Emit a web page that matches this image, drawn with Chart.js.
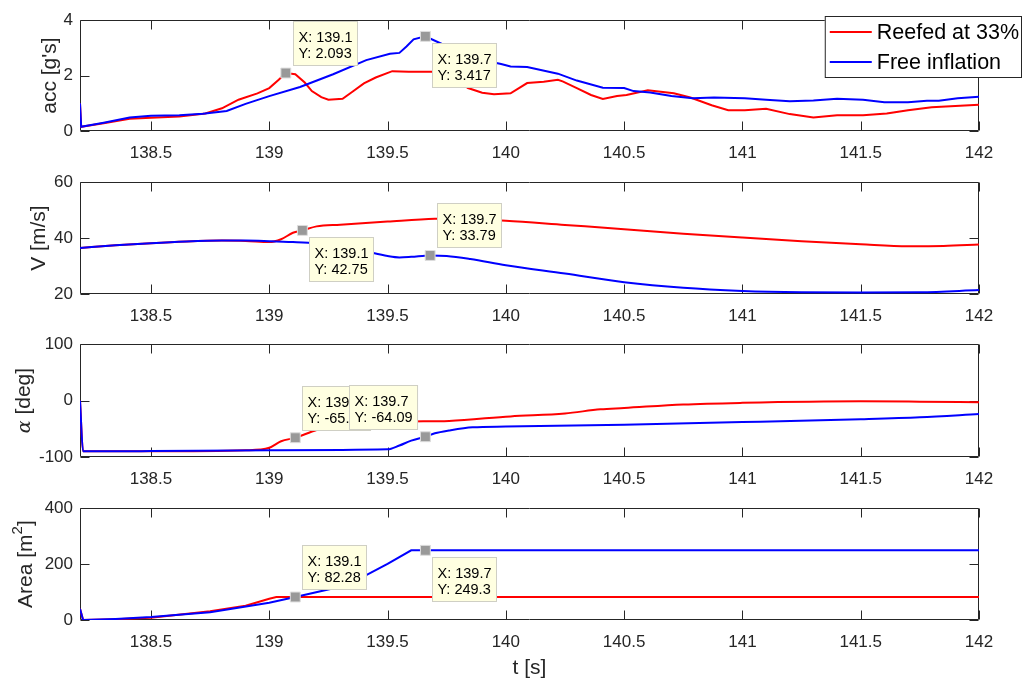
<!DOCTYPE html>
<html>
<head>
<meta charset="utf-8">
<script src="https://cdn.jsdelivr.net/npm/chart.js@4/dist/chart.umd.min.js"></script>
<style>
  body { margin: 0; background: #fff; }
  #wrap { position: relative; width: 1030px; height: 679px; }
  #wrap canvas { position: absolute; left: 0; }
</style>
</head>
<body>
<div id="wrap">
  <canvas id="accChart"></canvas>
  <canvas id="velChart"></canvas>
  <canvas id="alphaChart"></canvas>
  <canvas id="areaChart"></canvas>
</div>
<script>
// shared time axis
const tTicks = [138.5, 139, 139.5, 140, 140.5, 141, 141.5, 142];

// acc [g's]
const accRedT = [138.2, 138.205, 138.3, 138.41, 138.5, 138.62, 138.73, 138.8, 138.87, 138.95, 139.0, 139.04, 139.07, 139.11, 139.15, 139.18, 139.22, 139.25, 139.31, 139.35, 139.4, 139.45, 139.52, 139.59, 139.69, 139.75, 139.8, 139.84, 139.9, 139.95, 140.02, 140.09, 140.16, 140.22, 140.24, 140.3, 140.36, 140.41, 140.47, 140.51, 140.6, 140.71, 140.78, 140.87, 140.94, 141.01, 141.1, 141.2, 141.3, 141.4, 141.51, 141.61, 141.7, 141.8, 142];
const accRed = [1.0, 0.15, 0.28, 0.44, 0.48, 0.52, 0.63, 0.82, 1.13, 1.36, 1.55, 1.85, 2.093, 2.05, 1.75, 1.44, 1.22, 1.13, 1.16, 1.41, 1.72, 1.93, 2.16, 2.14, 2.14, 2.05, 1.8, 1.55, 1.38, 1.33, 1.36, 1.73, 1.78, 1.85, 1.79, 1.55, 1.30, 1.16, 1.26, 1.30, 1.47, 1.36, 1.21, 0.93, 0.75, 0.75, 0.80, 0.61, 0.49, 0.57, 0.57, 0.63, 0.75, 0.86, 0.95];
const accBlueT = [138.2, 138.205, 138.3, 138.41, 138.5, 138.62, 138.72, 138.82, 138.9, 139.0, 139.13, 139.27, 139.41, 139.51, 139.55, 139.58, 139.61, 139.66, 139.73, 139.8, 139.9, 139.98, 140.02, 140.09, 140.22, 140.3, 140.41, 140.5, 140.54, 140.61, 140.7, 140.79, 140.88, 141.01, 141.1, 141.2, 141.3, 141.4, 141.51, 141.6, 141.7, 141.78, 141.83, 141.91, 142];
const accBlue = [1.0, 0.15, 0.3, 0.49, 0.55, 0.57, 0.62, 0.72, 0.98, 1.26, 1.59, 2.05, 2.56, 2.79, 2.82, 3.05, 3.31, 3.417, 3.14, 2.85, 2.56, 2.42, 2.33, 2.31, 2.07, 1.82, 1.56, 1.55, 1.44, 1.39, 1.26, 1.18, 1.21, 1.18, 1.13, 1.07, 1.10, 1.16, 1.13, 1.04, 1.04, 1.09, 1.09, 1.18, 1.24];
const accTicks = [0, 2, 4];
const accTipX = [139.07, 139.66];
const accTipY = [2.093, 3.417];

// V [m/s]
const velRedT = [138.2, 138.35, 138.5, 138.65, 138.8, 138.9, 139.0, 139.05, 139.1, 139.14, 139.2, 139.3, 139.5, 139.7, 139.8, 140.0, 140.25, 140.5, 140.75, 141.0, 141.25, 141.5, 141.7, 141.85, 142];
const velRed = [36.5, 37.4, 38.2, 38.8, 39.1, 39.0, 38.6, 39.6, 41.9, 42.75, 44.2, 44.8, 45.9, 46.9, 47.0, 46.2, 44.7, 43.2, 41.6, 40.2, 38.9, 37.8, 37.1, 37.2, 37.7];
const velBlueT = [138.2, 138.35, 138.5, 138.65, 138.8, 138.9, 139.0, 139.1, 139.2, 139.3, 139.4, 139.5, 139.55, 139.6, 139.68, 139.75, 139.85, 140.0, 140.25, 140.5, 140.75, 141.0, 141.25, 141.5, 141.75, 142];
const velBlue = [36.5, 37.4, 38.2, 38.8, 39.1, 39.1, 38.9, 38.6, 38.1, 37.0, 35.4, 33.6, 33.1, 33.3, 33.79, 33.6, 32.5, 30.3, 27.3, 24.2, 22.2, 21.1, 20.6, 20.5, 20.6, 21.4];
const velTicks = [20, 40, 60];
const velTipX = [139.14, 139.68];
const velTipY = [42.75, 33.79];

// alpha [deg]
const alphaRedT = [138.2, 138.213, 138.5, 138.9, 139.0, 139.05, 139.11, 139.2, 139.3, 139.45, 139.6, 139.76, 140.02, 140.25, 140.4, 140.5, 140.75, 141.0, 141.5, 141.75, 142];
const alphaRed = [0, -90, -90, -88, -83.5, -72, -65.84, -52, -43, -38, -37, -36, -28, -22.8, -15.4, -13.1, -6.9, -4.0, -1.3, -1.9, -2.9];
const alphaBlueT = [138.2, 138.213, 138.5, 139.0, 139.5, 139.55, 139.6, 139.66, 139.7, 139.76, 139.86, 140.0, 140.5, 141.0, 141.5, 141.75, 142];
const alphaBlue = [0, -90, -89.5, -88, -86.4, -79.6, -71, -64.09, -58, -52.9, -47.2, -46, -42.6, -38.1, -33, -29.6, -23.9];
const alphaTicks = [-100, 0, 100];
const alphaTipX = [139.11, 139.66];
const alphaTipY = [-65.84, -64.09];

// Area [m^2]
const areaRedT = [138.2, 138.213, 138.35, 138.5, 138.75, 138.9, 139.0, 139.03, 142];
const areaRed = [40, 0, 3, 8, 31, 51, 76, 82.28, 82.28];
const areaBlueT = [138.2, 138.213, 138.35, 138.5, 138.75, 139.0, 139.11, 139.3, 139.4, 139.5, 139.6, 139.66, 142];
const areaBlue = [40, 0, 4, 11, 28, 62, 82.28, 119, 156, 201, 249.3, 249.3, 249.3];
const areaTicks = [0, 200, 400];
const areaTipX = [139.11, 139.66];
const areaTipY = [82.28, 249.3];

const FONT = '"Liberation Sans", Arial, Helvetica, sans-serif';
const AXIS = '#262626';
const PAD_TOP = 12;

function pairs(xs, ys) {
  return xs.map((x, i) => ({ x: x, y: ys[i] }));
}

function fmt(v) {
  return Number(v).toPrecision(4);
}

// box + inward tick marks, like matlab's axes
const frame = {
  id: 'frame',
  beforeDatasetsDraw(chart) {
    const { ctx, chartArea: a, scales: { x, y } } = chart;
    const L = Math.round(a.left) + 0.5, R = Math.round(a.right) - 0.5;
    const T = Math.round(a.top) + 0.5, B = Math.round(a.bottom) - 0.5;
    ctx.save();
    ctx.strokeStyle = AXIS;
    ctx.lineWidth = 1;
    ctx.beginPath();
    ctx.rect(L, T, R - L, B - T);
    x.ticks.forEach(t => {
      const px = Math.round(x.getPixelForValue(t.value)) + 0.5;
      ctx.moveTo(px, B); ctx.lineTo(px, B - 9);
      ctx.moveTo(px, T); ctx.lineTo(px, T + 9);
    });
    y.ticks.forEach(t => {
      const py = Math.round(y.getPixelForValue(t.value)) + 0.5;
      ctx.moveTo(L, py); ctx.lineTo(L + 9, py);
      ctx.moveTo(R, py); ctx.lineTo(R - 9, py);
    });
    ctx.stroke();
    ctx.restore();
  }
};

// datatip boxes
const tips = {
  id: 'tips',
  afterDatasetsDraw(chart, args, o) {
    if (!o.xs) return;
    const { ctx, scales: { x, y } } = chart;
    ctx.save();
    ctx.font = '14.5px ' + FONT;
    o.xs.forEach((tx, i) => {
      const mx = x.getPixelForValue(tx), my = y.getPixelForValue(o.ys[i]);
      const lines = ['X: ' + fmt(tx), 'Y: ' + fmt(o.ys[i])];
      const w = Math.max(...lines.map(s => ctx.measureText(s).width)) + 11;
      const h = 45;
      const place = o.place[i];
      const bx = Math.round(place[1] === 'e' ? mx + 7 : mx - 7 - w);
      const by = Math.round(place[0] === 'n' ? my - 7 - h : my + 7);
      ctx.fillStyle = '#ffffe1';
      ctx.fillRect(bx, by, w, h);
      ctx.strokeStyle = '#cfcfc4';
      ctx.lineWidth = 1;
      ctx.strokeRect(bx + 0.5, by + 0.5, w - 1, h - 1);
      ctx.fillStyle = '#000';
      ctx.textBaseline = 'alphabetic';
      ctx.fillText(lines[0], bx + 5.5, by + 20.5);
      ctx.fillText(lines[1], bx + 5.5, by + 37.2);
    });
    ctx.restore();
  }
};

// rotated y label, with mixed fonts
const yTitle = {
  id: 'yTitle',
  afterDraw(chart, args, o) {
    if (!o.parts) return;
    const { ctx, chartArea: a } = chart;
    ctx.save();
    const widths = o.parts.map(p => { ctx.font = p.font; return ctx.measureText(p.text).width; });
    const total = widths.reduce((s, w) => s + w, 0);
    ctx.translate(o.baseline, (a.top + a.bottom) / 2);
    ctx.rotate(-Math.PI / 2);
    ctx.fillStyle = AXIS;
    ctx.textBaseline = 'alphabetic';
    let cx = -total / 2;
    o.parts.forEach((p, i) => {
      ctx.font = p.font;
      ctx.fillText(p.text, cx, -(p.rise || 0));
      cx += widths[i];
    });
    ctx.restore();
  }
};

// legend box in the upper-right, over the top axes
const boxLegend = {
  id: 'boxLegend',
  afterDraw(chart, args, o) {
    if (!o.show) return;
    const { ctx, chartArea: a } = chart;
    const items = chart.data.datasets.filter(d => d.legendRank).sort((p, q) => p.legendRank - q.legendRank);
    ctx.save();
    ctx.font = '21.5px ' + FONT;
    const tw = Math.max(...items.map(d => ctx.measureText(d.label).width));
    const w = Math.max(196, 52 + tw + 3);
    const h = 62;
    const bx = Math.round(a.right) + 43 - w;
    const by = Math.round(a.top) - 4;
    ctx.fillStyle = '#fff';
    ctx.fillRect(bx, by, w, h);
    ctx.strokeStyle = AXIS;
    ctx.lineWidth = 1;
    ctx.strokeRect(bx + 0.5, by + 0.5, w - 1, h - 1);
    items.forEach((d, i) => {
      const cy = by + 16 + i * 30;
      ctx.strokeStyle = d.borderColor;
      ctx.lineWidth = 2;
      ctx.beginPath();
      ctx.moveTo(bx + 5, cy); ctx.lineTo(bx + 47, cy);
      ctx.stroke();
      ctx.fillStyle = '#000';
      ctx.textBaseline = 'middle';
      ctx.fillText(d.label, bx + 52, cy + 1);
    });
    ctx.restore();
  }
};

function makePanel(id, p) {
  const cv = document.getElementById(id);
  const h = (p.bottom - p.top) + PAD_TOP + p.xh;
  cv.width = 1030;
  cv.height = h;
  cv.style.width = '1030px';
  cv.style.height = h + 'px';
  cv.style.top = (p.top - PAD_TOP) + 'px';
  const line = { showLine: true, pointRadius: 0, borderWidth: 2, fill: false };
  if (p.smooth) line.cubicInterpolationMode = 'monotone';
  else line.tension = 0;
  return new Chart(cv, {
    type: 'line',
    data: {
      datasets: [
        { label: 'tip', data: pairs(p.tipX, p.tipY), showLine: false, pointStyle: 'rect',
          pointRadius: 7, pointBackgroundColor: '#999999', pointBorderColor: '#dedede',
          pointBorderWidth: 1, order: 0 },
        Object.assign({ label: 'Free inflation', data: pairs(p.blueT, p.blue),
          borderColor: '#0000ff', legendRank: 2, order: 1 }, line),
        Object.assign({ label: 'Reefed at 33%', data: pairs(p.redT, p.red),
          borderColor: '#ff0000', legendRank: 1, order: 2 }, line)
      ]
    },
    options: {
      responsive: false,
      animation: false,
      events: [],
      devicePixelRatio: 1,
      layout: { padding: { top: PAD_TOP, left: 0, right: 51, bottom: 0 } },
      plugins: {
        legend: { display: false },
        tooltip: { enabled: false },
        tips: { xs: p.tipX, ys: p.tipY, place: p.tipPlace },
        yTitle: { parts: p.yParts, baseline: p.yBase },
        boxLegend: { show: !!p.legend }
      },
      scales: {
        x: {
          type: 'linear', min: 138.2, max: 142,
          grid: { display: false, drawTicks: false }, border: { display: false },
          afterBuildTicks: s => { s.ticks = tTicks.map(v => ({ value: v })); },
          afterFit: s => { s.height = p.xh; },
          ticks: { color: AXIS, padding: 12, font: { family: FONT, size: 17 },
            maxRotation: 0, autoSkip: false, callback: v => String(v) },
          title: { display: !!p.xTitle, text: p.xTitle || '', color: AXIS,
            font: { family: FONT, size: 21 }, padding: { top: 0, bottom: -2 } }
        },
        y: {
          min: p.yMin, max: p.yMax,
          grid: { display: false, drawTicks: false }, border: { display: false },
          afterBuildTicks: s => { s.ticks = p.yTicks.map(v => ({ value: v })); },
          afterFit: s => { s.width = 80; },
          ticks: { color: AXIS, padding: 7, font: { family: FONT, size: 17 },
            callback: v => String(v) }
        }
      }
    },
    plugins: [frame, tips, yTitle, boxLegend]
  });
}

const sans21 = '21px ' + FONT;

makePanel('accChart', {
  top: 15, bottom: 131, xh: 34, yMin: 0, yMax: 4, yTicks: accTicks,
  redT: accRedT, red: accRed, blueT: accBlueT, blue: accBlue,
  tipX: accTipX, tipY: accTipY, tipPlace: ['ne', 'se'],
  yParts: [{ text: "acc [g's]", font: sans21 }], yBase: 55.5, legend: true
});

makePanel('velChart', {
  top: 177, bottom: 294, xh: 34, yMin: 20, yMax: 60, yTicks: velTicks,
  redT: velRedT, red: velRed, blueT: velBlueT, blue: velBlue,
  tipX: velTipX, tipY: velTipY, tipPlace: ['se', 'ne'],
  yParts: [{ text: 'V [m/s]', font: sans21 }], yBase: 45, smooth: true
});

makePanel('alphaChart', {
  top: 339, bottom: 457, xh: 34, yMin: -100, yMax: 100, yTicks: alphaTicks,
  redT: alphaRedT, red: alphaRed, blueT: alphaBlueT, blue: alphaBlue,
  tipX: alphaTipX, tipY: alphaTipY, tipPlace: ['ne', 'nw'],
  yParts: [{ text: '\u03b1', font: 'italic 19px "DejaVu Serif", "Liberation Serif", serif' },
           { text: ' [deg]', font: sans21 }], yBase: 30, smooth: true
});

makePanel('areaChart', {
  top: 503, bottom: 620, xh: 59, yMin: 0, yMax: 400, yTicks: areaTicks,
  redT: areaRedT, red: areaRed, blueT: areaBlueT, blue: areaBlue,
  tipX: areaTipX, tipY: areaTipY, tipPlace: ['ne', 'se'],
  yParts: [{ text: 'Area [m', font: sans21 }, { text: '2', font: '15px ' + FONT, rise: 10 },
           { text: ']', font: sans21 }], yBase: 32,
  xTitle: 't [s]'
});
</script>
</body>
</html>
